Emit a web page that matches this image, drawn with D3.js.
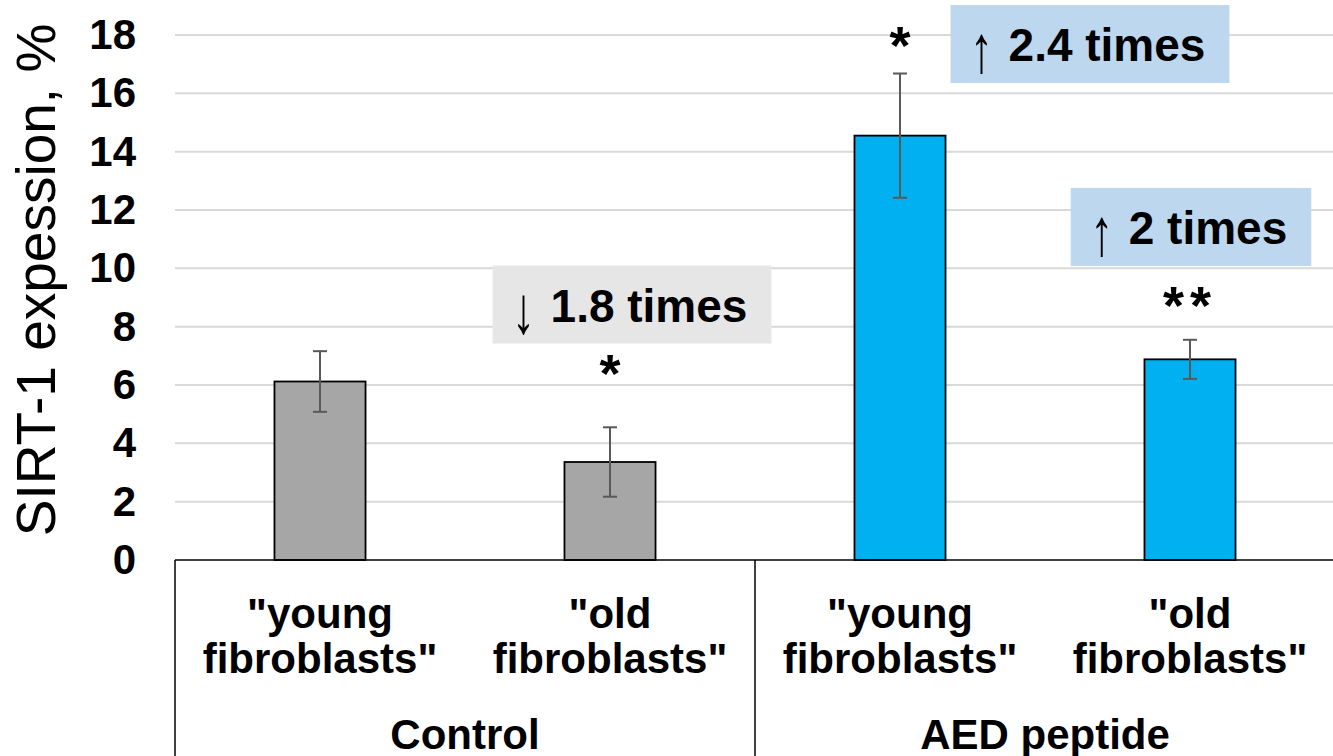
<!DOCTYPE html>
<html>
<head>
<meta charset="utf-8">
<script src="https://cdn.jsdelivr.net/npm/d3@7"></script>
<style>
    body { margin: 0; background: #fff; }
    svg { display: block; font-family: Arial, "Liberation Sans", sans-serif; }
</style>
</head>
<body>
<div id="chart"></div>
<script>
// --- Data ---
const groups = ['Control', 'AED peptide'];
const categories = ['"young fibroblasts"', '"old fibroblasts"', '"young fibroblasts"', '"old fibroblasts"'];
const catKeys = ['c-young', 'c-old', 'a-young', 'a-old'];
const catGroup = [0, 0, 1, 1];
const values = [6.12, 3.36, 14.55, 6.88];
const errors = [1.04, 1.19, 2.13, 0.67];
const stars = ['', '*', '*', '**'];
const yTicks = [0, 2, 4, 6, 8, 10, 12, 14, 16, 18];
const notes = ['\u2193', '\u2191', '\u2191'];
const noteTexts = ['1.8 times', '2.4 times', '2 times'];

// --- Layout ---
const W = 1333, H = 756;
const plot = { left: 175, right: 1335, top: 35, bottom: 560 };

const svg = d3.select('#chart').append('svg')
    .attr('width', W)
    .attr('height', H);

const x = d3.scaleBand().domain(catKeys).range([plot.left, plot.right]).padding(0);
const y = d3.scaleLinear().domain([0, 18]).range([plot.bottom, plot.top]);
const barW = x.bandwidth() * 0.314;
const cx = i => x(catKeys[i]) + x.bandwidth() / 2;

// gridlines
svg.append('g')
    .selectAll('line')
    .data(yTicks.filter(d => d > 0))
    .enter()
    .append('line')
    .attr('x1', plot.left).attr('x2', W)
    .attr('y1', d => y(d)).attr('y2', d => y(d))
    .attr('stroke', '#d9d9d9')
    .attr('stroke-width', 2);

// y axis labels
const yAxis = svg.append('g')
    .attr('transform', `translate(${plot.left},0)`)
    .call(d3.axisLeft(y).tickValues(yTicks).tickSize(0).tickPadding(39));
yAxis.select('.domain').remove();
yAxis.selectAll('text')
    .attr('font-size', 42)
    .attr('font-weight', 'bold')
    .attr('font-family', 'Arial, "Liberation Sans", sans-serif')
    .attr('fill', '#000');

// y title
svg.append('text')
    .attr('transform', `translate(55,280) rotate(-90)`)
    .attr('text-anchor', 'middle')
    .attr('font-size', 55)
    .attr('fill', '#000')
    .text('SIRT-1 expession, %');

// bars
svg.append('g')
    .selectAll('rect')
    .data(values)
    .enter()
    .append('rect')
    .attr('x', (d, i) => cx(i) - barW / 2)
    .attr('y', d => y(d))
    .attr('width', barW)
    .attr('height', d => y(0) - y(d))
    .attr('fill', (d, i) => catGroup[i] === 0 ? '#a6a6a6' : '#00b0f0')
    .attr('stroke', '#000')
    .attr('stroke-width', 1.8);

// error bars
const eg = svg.append('g').attr('stroke', '#595959').attr('stroke-width', 2);
values.forEach((v, i) => {
    const c = cx(i);
    eg.append('line').attr('x1', c).attr('x2', c).attr('y1', y(v + errors[i])).attr('y2', y(v - errors[i]));
    eg.append('line').attr('x1', c - 7).attr('x2', c + 7).attr('y1', y(v + errors[i])).attr('y2', y(v + errors[i]));
    eg.append('line').attr('x1', c - 7).attr('x2', c + 7).attr('y1', y(v - errors[i])).attr('y2', y(v - errors[i]));
});

// x axis & category frame
const fg = svg.append('g').attr('stroke', '#000').attr('stroke-width', 1.5);
fg.append('line').attr('x1', plot.left).attr('x2', W).attr('y1', y(0)).attr('y2', y(0));
[plot.left, x(catKeys[2]), plot.right].forEach(px => {
    fg.append('line').attr('x1', px).attr('x2', px).attr('y1', y(0)).attr('y2', H);
});

// category labels (two lines)
categories.forEach((c, i) => {
    const words = c.split(' ');
    const t = svg.append('text')
        .attr('text-anchor', 'middle')
        .attr('font-size', 42)
        .attr('font-weight', 'bold');
    words.forEach((w, k) => {
        t.append('tspan').attr('x', cx(i)).attr('y', 628 + k * 45).text(w);
    });
});

// group labels
groups.forEach((g, gi) => {
    const x0 = x(catKeys[gi * 2]);
    const x1 = x(catKeys[gi * 2 + 1]) + x.bandwidth();
    svg.append('text')
        .attr('x', (x0 + x1) / 2)
        .attr('y', 749)
        .attr('text-anchor', 'middle')
        .attr('font-size', 42)
        .attr('font-weight', 'bold')
        .text(g);
});

// significance stars
const starY = [0, 5.75, 17.0, 8.1];
stars.forEach((s, i) => {
    if (!s) return;
    svg.append('text')
        .attr('x', cx(i))
        .attr('y', y(starY[i]))
        .attr('text-anchor', 'middle')
        .attr('font-size', 54)
        .attr('font-weight', 'bold')
        .attr('letter-spacing', s.length > 1 ? 6 : 0)
        .text(s);
});

// fold-change boxes (arrow + text on a coloured rectangle)
const noteBox = [
    { x: cx(1) + 22, y: 8.76, fill: '#e6e6e6' },
    { x: 1090, y: 17.69, fill: '#bdd7ee' },
    { x: cx(3) + 1, y: 11.42, fill: '#bdd7ee' }
];
notes.forEach((a, i) => {
    const b = noteBox[i];
    const g = svg.append('g');
    const rect = g.append('rect').attr('fill', b.fill);
    const base = y(b.y) + 17;
    const t = g.append('text')
        .attr('y', base)
        .attr('font-size', 46)
        .attr('font-weight', 'bold')
        .text(noteTexts[i]);
    const tw = t.node().getComputedTextLength();
    const boxW = 31 + 27 + tw + 24;
    const bx = b.x - boxW / 2;
    t.attr('x', bx + 58);
    g.append('text')
        .attr('transform', `translate(${bx + 31},${base + 11}) scale(1,1.45)`)
        .attr('text-anchor', 'middle')
        .attr('font-size', 46)
        .text(a);
    rect.attr('x', bx).attr('width', boxW)
        .attr('y', y(b.y) - 39).attr('height', 78);
});
</script>
</body>
</html>
